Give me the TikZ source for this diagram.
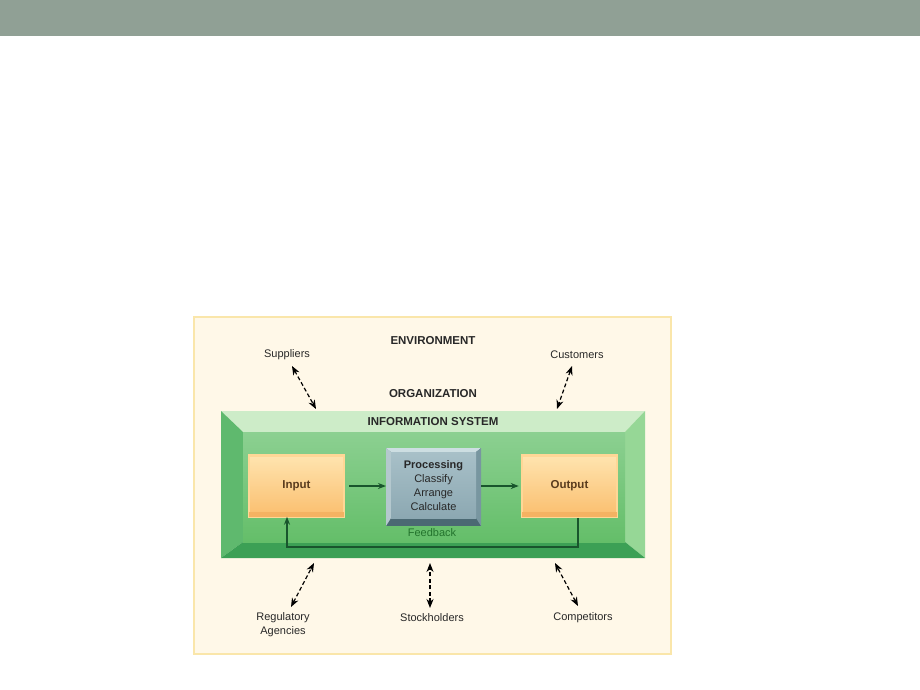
\documentclass[tikz,border=0pt]{standalone}
\usepackage{fontspec}
\setmainfont{Liberation Sans}
\usetikzlibrary{arrows.meta}
\definecolor{barc}{RGB}{144,160,149}
\definecolor{panel}{RGB}{255,248,232}
\definecolor{panelb}{RGB}{250,230,170}
\definecolor{gtop}{RGB}{205,236,200}
\definecolor{gleft}{RGB}{95,185,110}
\definecolor{gright}{RGB}{150,215,150}
\definecolor{gbot}{RGB}{60,160,85}
\definecolor{ginA}{RGB}{140,208,145}
\definecolor{ginB}{RGB}{100,190,105}
\definecolor{orA}{RGB}{255,228,175}
\definecolor{orB}{RGB}{250,190,110}
\definecolor{orE}{RGB}{255,215,150}
\definecolor{orD}{RGB}{240,170,90}
\definecolor{prA}{RGB}{168,192,200}
\definecolor{prB}{RGB}{140,168,178}
\definecolor{prT}{RGB}{205,222,226}
\definecolor{prL}{RGB}{180,200,206}
\definecolor{prR}{RGB}{120,150,160}
\definecolor{prD}{RGB}{75,105,115}
\definecolor{fbline}{RGB}{25,85,45}
\definecolor{fbtext}{RGB}{35,115,45}
\definecolor{txt}{RGB}{40,40,40}
\definecolor{ortxt}{RGB}{90,60,30}
\tikzset{
  x=1pt,y=-1pt,
  lbl/.style={font=\fontsize{11}{14}\selectfont, text=txt, inner sep=1pt},
  blbl/.style={font=\bfseries\fontsize{11.5}{14}\selectfont, text=txt, inner sep=1pt},
  envarrow/.style={dashed, dash pattern=on 4pt off 2.5pt, line width=1.2pt, black, {Stealth[length=9pt,width=7pt]}-{Stealth[length=9pt,width=7pt]}},
  flow/.style={line width=1.5pt, fbline, -{Stealth[length=8pt,width=6pt]}},
  orbox/.style={minimum width=95pt, minimum height=61pt, inner sep=0pt, top color=orA, bottom color=orB, draw=orE, line width=2.5pt, font=\bfseries\fontsize{11.5}{14}\selectfont, text=ortxt},
}
\begin{document}
\begin{tikzpicture}
\useasboundingbox (0,0) rectangle (920,690);
\fill[white] (0,0) rectangle (920,690);
\fill[barc] (0,0) rectangle (920,36);
% panel
\fill[panel, draw=panelb, line width=2.5pt] (194,317) rectangle (671,654);
% beveled frame of the information system
\fill[gtop] (221,411) -- (645,411) -- (625,432) -- (243,432) -- cycle;
\fill[gleft] (221,411) -- (243,432) -- (243,542) -- (221,558) -- cycle;
\fill[gright] (645,411) -- (625,432) -- (625,542) -- (645,558) -- cycle;
\fill[gbot] (221,558) -- (243,542) -- (625,542) -- (645,558) -- cycle;
\shade[top color=ginA, bottom color=ginB] (243,432) rectangle (625,542);
% labels
\node[blbl] (env) at (433,341) {ENVIRONMENT};
\node[blbl] (org) at (433,394) {ORGANIZATION};
\node[blbl] (is) at (433,422) {INFORMATION SYSTEM};
\node[lbl] (sup) at (287,355) {Suppliers};
\node[lbl] (cus) at (577,355) {Customers};
\node[lbl, align=center] (reg) at (283,625) {Regulatory\\Agencies};
\node[lbl] (sto) at (432,618) {Stockholders};
\node[lbl] (com) at (583,618) {Competitors};
% boxes
\node[orbox] (in) at (296.5,486) {Input};
\node[orbox] (out) at (569.5,486) {Output};
\fill[orD!60!orB] ([xshift=1.25pt,yshift=1.25pt]in.south west) rectangle ([xshift=-1.25pt,yshift=6pt]in.south east);
\fill[orD!60!orB] ([xshift=1.25pt,yshift=1.25pt]out.south west) rectangle ([xshift=-1.25pt,yshift=6pt]out.south east);
% processing box (bevelled)
\fill[prD] (386,448) rectangle (481,526);
\fill[prT] (386,448) -- (481,448) -- (476,452) -- (391,452) -- cycle;
\fill[prL] (386,448) -- (391,452) -- (391,518) -- (386,526) -- cycle;
\fill[prR] (481,448) -- (476,452) -- (476,518) -- (481,526) -- cycle;
\shade[top color=prA, bottom color=prB] (391,452) rectangle (476,518);
\node[align=center, inner sep=0pt, font=\fontsize{11}{14}\selectfont, text=txt] (proc) at (433.5,486) {\textbf{Processing}\\Classify\\Arrange\\Calculate};
\node[fbtext, font=\fontsize{11}{12}\selectfont, inner sep=1pt] (fb) at (432,533) {Feedback};
% flows
\coordinate (procW) at (386,486);
\coordinate (procE) at (481,486);
\draw[flow] (in.east) ++(4,0) -- (procW);
\draw[flow] (procE) -- ([xshift=-2pt]out.west);
\coordinate (fbR) at (578,547);
\coordinate (fbL) at (287,547);
\draw[flow] (out.south -| fbR) -- (fbR) -- (fbL) -- ([yshift=1pt]in.south -| fbL);
% environment arrows
\coordinate (supE) at (316,409);
\coordinate (cusE) at (557,409);
\coordinate (regE) at (314,563);
\coordinate (stoE) at (430,563);
\coordinate (comE) at (555,563);
\draw[envarrow] (292,366) -- (supE);
\draw[envarrow] (572,366) -- (cusE);
\draw[envarrow] (291,607) -- (regE);
\draw[envarrow] (430,608) -- (stoE);
\draw[envarrow] (578,606) -- (comE);
\end{tikzpicture}
\end{document}
